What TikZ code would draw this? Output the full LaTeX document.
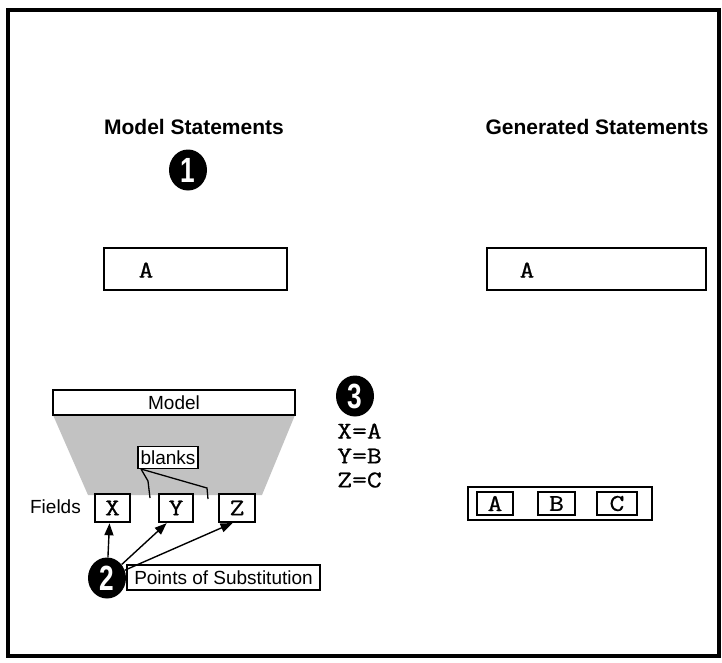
\documentclass[tikz,border=0pt]{standalone}
\usepackage{fontspec}
\usepackage{graphicx}
\setmainfont{Liberation Sans}
\newfontfamily\hdrfont{Liberation Sans}
\newfontfamily\numfont[FakeStretch=0.75]{Liberation Sans}
\newfontfamily\tyfont[FakeBold=0.7]{Latin Modern Mono}
\newcommand{\tyw}[1]{\scalebox{1.2}[1]{#1}}
\usetikzlibrary{arrows.meta,shapes.geometric}
\begin{document}
\begin{tikzpicture}[x=1pt,y=-1pt,
  hdr/.style={font=\hdrfont\bfseries\fontsize{21}{24}\selectfont, inner sep=0pt},
  lbl/.style={font=\fontsize{19}{22}\selectfont, inner sep=0pt},
  mono/.style={font=\tyfont\fontsize{24}{28}\selectfont, inner sep=0pt},
  sbox/.style={draw, line width=1.9pt, inner sep=0pt},
  fbox/.style={draw, line width=1.6pt, inner sep=0pt, font=\tyfont\fontsize{24}{28}\selectfont},
  lbox/.style={draw, line width=1.6pt, inner sep=0pt, font=\fontsize{19}{22}\selectfont},
  numc/.style={ellipse, fill=black, inner sep=0pt, minimum width=38pt, minimum height=41pt,
    text=white, font=\numfont\bfseries\fontsize{35}{35}\selectfont},
  arr/.style={line width=1.4pt, -{Triangle[length=12pt,width=9pt]}, shorten >=0.5pt}
]
\useasboundingbox (0,0) rectangle (722,662);
\draw[line width=4pt] (8,10) rectangle (719,656);

% headings
\node[hdr] (mh) at (194,127) {Model Statements};
\node[hdr] (gh) at (597,127) {Generated Statements};
\node[numc] (c1) at (188,170) {1};

% statement boxes
\node[sbox, minimum width=183pt, minimum height=42pt] (sa) at (195.5,269) {};
\node[mono] (saA) at (146,270) {\tyw{A}};
\node[sbox, minimum width=219pt, minimum height=42pt] (ga) at (596.5,269) {};
\node[mono] (gaA) at (527,270) {\tyw{A}};

% model with gray trapezoid
\fill[black!24] (53,415) -- (295,415) -- (262,495) -- (88,495) -- cycle;
\node[lbox, fill=white, minimum width=242pt, minimum height=25pt] (model) at (174,402.5) {Model};
\node[lbox, fill=white, minimum width=60pt, minimum height=22pt] (bk) at (168,457.5) {blanks};

% fields
\node[lbl, anchor=east] (fl) at (81,507) {Fields};
\node[fbox, fill=white, minimum width=35pt, minimum height=28pt] (xb) at (112.5,508) {\tyw{X}};
\node[fbox, fill=white, minimum width=34pt, minimum height=28pt] (yb) at (176,508) {\tyw{Y}};
\node[fbox, fill=white, minimum width=36pt, minimum height=28pt] (zb) at (237,508) {\tyw{Z}};

% blank pointers
\coordinate (bs) at (141,469);
\coordinate (g1) at (150,498);
\coordinate (g2) at (208,499);
\draw[line width=1.3pt] (bs) -- (148,481) -- (g1);
\draw[line width=1.3pt] (bs) -- (207,488) -- (g2);

% points of substitution
\node[numc] (c2) at (107,578) {2};
\node[lbox, minimum width=193pt, minimum height=25pt] (ps) at (223.5,577.5) {Points of Substitution};
\draw[arr] (c2) -- ([xshift=-3pt]xb.south);
\draw[arr] (c2) -- ([xshift=-9pt]yb.south);
\draw[arr] (c2) -- ([xshift=-4pt]zb.south);

% substitutions
\node[numc] (c3) at (355,396) {3};
\node[mono] (sx) at (359.5,431) {\tyw{X=A}};
\node[mono] (sy) at (359.5,456) {\tyw{Y=B}};
\node[mono] (sz) at (359.5,480) {\tyw{Z=C}};

% generated fields
\node[sbox, minimum width=184pt, minimum height=33pt] (abc) at (560,503.5) {};
\node[fbox, minimum width=36pt, minimum height=23pt] (ab) at (495,503.5) {\tyw{A}};
\node[fbox, minimum width=37pt, minimum height=23pt] (bb) at (556.5,503.5) {\tyw{B}};
\node[fbox, minimum width=40pt, minimum height=23pt] (cb) at (617,503.5) {\tyw{C}};
\end{tikzpicture}
\end{document}
